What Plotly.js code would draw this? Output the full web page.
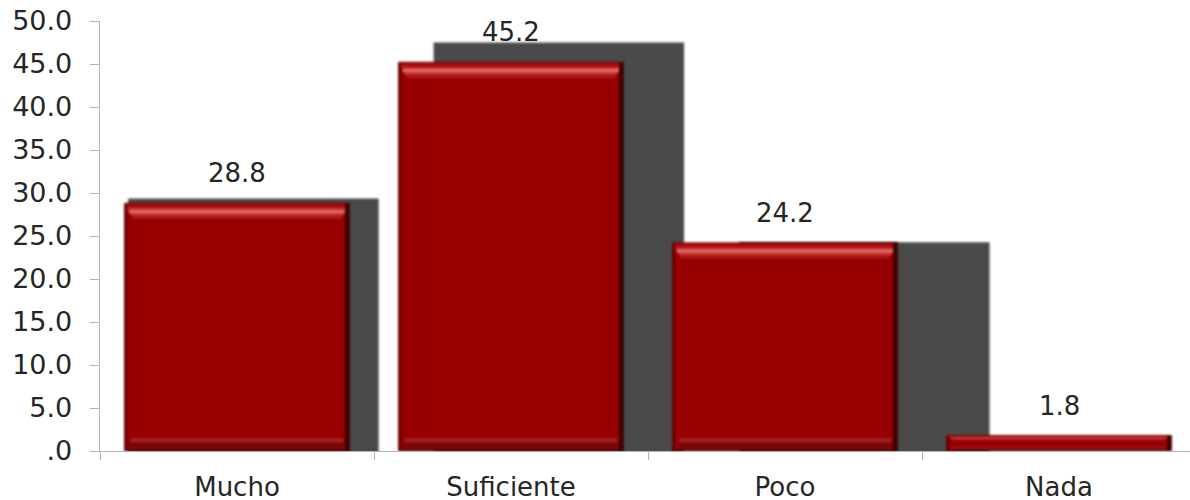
<!DOCTYPE html>
<html>
<head>
<meta charset="utf-8">
<script src="https://cdn.plot.ly/plotly-3.0.1.min.js"></script>
<style>
  html, body { margin: 0; padding: 0; background: #ffffff; }
  #chart { width: 1190px; height: 500px; }
  /* soften the cast shadow edges */
  #chart .xy .barlayer { filter: blur(1.2px); }
</style>
</head>
<body>
<div id="chart"></div>
<script>
// Survey answers (percent)
const categories = ['Mucho', 'Suficiente', 'Poco', 'Nada'];
const values = [28.8, 45.2, 24.2, 1.8];
const valueLabels = ['28.8', '45.2', '24.2', '1.8'];

// Value axis ticks
const yTickVals = [0, 5, 10, 15, 20, 25, 30, 35, 40, 45, 50];
const yTickText = ['.0', '5.0', '10.0', '15.0', '20.0', '25.0', '30.0', '35.0', '40.0', '45.0', '50.0'];

const FONT = 'DejaVu Sans, Verdana, sans-serif';
const BAR_W = 0.82;

// bevel depth shrinks on very short bars
const depth = v => Math.min(1, v / 6);

// Bevel band lying between `deep` and `shallow` units below each bar top
function band(deep, shallow, width, color) {
  return {
    type: 'bar', x: categories,
    y: values.map(v => (deep - shallow) * depth(v)),
    base: values.map(v => v - deep * depth(v)),
    width: width, marker: {color: color, line: {width: 0}},
    xaxis: 'x2', yaxis: 'y2', hoverinfo: 'skip', showlegend: false
  };
}
// Bevel band lying between `from` and `to` units above the baseline
function bottomBand(from, to, width, color) {
  return {
    type: 'bar', x: categories,
    y: values.map(v => (to - from) * depth(v)),
    base: values.map(v => from * depth(v)),
    width: width, marker: {color: color, line: {width: 0}},
    xaxis: 'x2', yaxis: 'y2', hoverinfo: 'skip', showlegend: false
  };
}
// Thin vertical strip along a bar side
function edge(offset, width, color) {
  return {
    type: 'bar', x: categories, y: values,
    width: width, offset: offset,
    marker: {color: color, line: {width: 0}},
    xaxis: 'x2', yaxis: 'y2', hoverinfo: 'skip', showlegend: false
  };
}

const traces = [
  // cast shadow on the back axes (projected larger, shifted right and down, clipped at the floor)
  {
    type: 'bar', x: categories, y: values, width: BAR_W,
    marker: {color: '#4a4a4a', line: {width: 0}},
    xaxis: 'x', yaxis: 'y', hoverinfo: 'skip', showlegend: false
  },
  // bar body
  {
    type: 'bar', x: categories, y: values, width: BAR_W,
    marker: {color: '#960000', line: {color: '#5e0000', width: 1}},
    xaxis: 'x2', yaxis: 'y2', showlegend: false
  },
  // bottom bevel
  bottomBand(1.0, 1.45, 0.775, '#a42424'),
  bottomBand(0.15, 1.0, 0.785, '#780808'),
  bottomBand(0.0, 0.15, 0.80, '#5c0000'),
  // top bevel
  band(1.85, 1.45, 0.765, '#a91616'),
  band(1.45, 1.15, 0.775, '#c83636'),
  band(1.15, 0.75, 0.79, '#e66a6a'),
  band(0.75, 0.5, 0.80, '#c93434'),
  band(0.5, 0.06, 0.815, '#a80c0c'),
  // side edges
  edge(BAR_W / 2 - 0.016, 0.016, 'rgba(40,0,0,0.8)'),
  edge(-BAR_W / 2, 0.008, '#650000')
];

const annotations = categories.map((c, i) => ({
  x: c, y: values[i], xref: 'x2', yref: 'y2',
  text: valueLabels[i], showarrow: false,
  yanchor: 'middle', yshift: 30,
  font: {family: FONT, size: 26, color: '#262626'}
}));

const layout = {
  width: 1190, height: 500,
  margin: {l: 100, r: 0, t: 21, b: 49},
  paper_bgcolor: '#ffffff', plot_bgcolor: 'rgba(0,0,0,0)',
  barmode: 'overlay',
  showlegend: false,
  // back axes for the shadow
  xaxis: {
    type: 'category', range: [-0.502, 3.066], visible: false, fixedrange: true
  },
  yaxis: {
    range: [2.25, 47.46], visible: false, fixedrange: true
  },
  // front axes carry the bars and all visible ticks
  xaxis2: {
    type: 'category', overlaying: 'x', side: 'bottom',
    range: [-0.5, 3.478],
    showline: true, linecolor: '#b3b3b3', linewidth: 1.3,
    ticks: 'outside', tickson: 'boundaries', ticklen: 8, tickcolor: '#b3b3b3',
    ticklabelstandoff: 12,
    tickfont: {family: FONT, size: 26, color: '#262626'},
    showgrid: false, zeroline: false, fixedrange: true
  },
  yaxis2: {
    overlaying: 'y', side: 'left', range: [0, 50],
    tickvals: yTickVals, ticktext: yTickText,
    showline: true, linecolor: '#b3b3b3', linewidth: 1.3,
    ticks: 'outside', ticklen: 9, tickcolor: '#b3b3b3',
    ticklabelstandoff: 12,
    tickfont: {family: FONT, size: 27, color: '#262626'},
    showgrid: false, zeroline: false, fixedrange: true
  },
  annotations: annotations
};

Plotly.newPlot('chart', traces, layout, {staticPlot: true, displayModeBar: false});
</script>
</body>
</html>
